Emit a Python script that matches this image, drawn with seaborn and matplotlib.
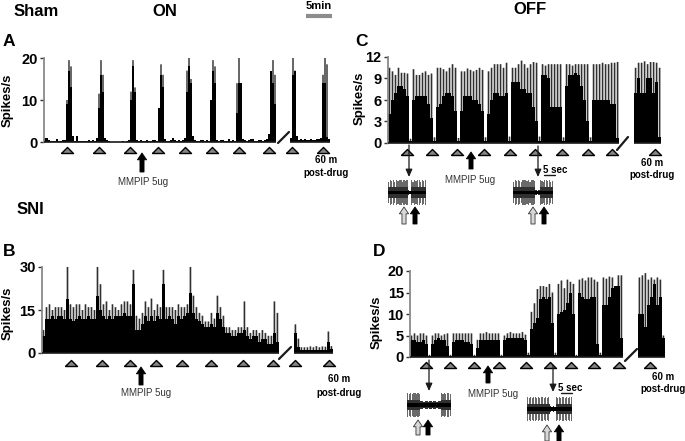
import numpy as np
import matplotlib
matplotlib.use("Agg")
import matplotlib.pyplot as plt
import seaborn as sns

sns.set_theme(style="white")
plt.rcParams["font.family"] = ["Liberation Sans", "DejaVu Sans"]

W, H = 685, 441

# ---------- panel A (Sham ON), 2 px bins
a_core = [1,1,.5,.3,.2,.3,.7,.3,.2,.4,
          .5,9,17,13,1.5,.3,1.5,.3,.3,.2,
          .3,.2,.5,.2,.4,.3,1,8,16,12,
          1,.4,.2,.1,0,0,0,0,.1,.2,
          .1,.3,.5,10,18,12,.5,.2,.4,.3,
          .3,.4,.3,.2,.5,.4,.3,8,16,13,
          .6,.3,.2,.4,1,.4,.3,.4,.3,.4,
          1,12,18,14,1.5,.5,.3,.3,.5,.4,
          .3,.5,.3,10,17,14,.5,.3,.4,.4,
          .3,.3,.7,.3,.4,.3,7,14,14,.6,
          .4,.3,.5,.8,.6,.3,.3,.5,.4,.3,.4,.8,2,17,14,9]
a_core2 = [1,16,17,1.5,.5,.6,.4,.7,.5,.4,.6,.5,.4,.6,.8,1,14,14,1.2,.6]
a_tip_bins = [11,12,13,27,28,29,43,44,45,57,58,59,71,72,73,83,84,85,96,97,98,113,114,115,124,125,139,140,141]
a_tip_vals = [10,19.5,18,11.5,19.5,16,12,19.5,13,8,18.5,16,17,20,15,9,19.5,18,14,20,14,16,19.5,16,20,17,16,20,18.5]
a_stim = [11,27,42.5,56.5,70,83.5,97,112,123.5,139]

# ---------- panel B (SNI ON), 3 px bins
b_peak = [8,16,17,15,16,16,16,15,30,17,
          16,17,17,15,17,16,16,15,30,24,
          17,18,15,17,16,15,17,18,18,17,
          29,13,12,14,18,16,19,15,17,16,
          29,16,16,16,15,17,16,16,17,30,
          20,16,14,13,11,11,14,12,20,16,
          13,9,9,8,8,9,9,18,9,7,
          8,8,7,8,7,6,6,18,14]
b_core = [6,12,12,13,12,13,13,12,19,12,
          11,12,13,12,12,13,12,12,20,15,
          13,12,13,12,13,13,13,14,13,13,
          24,8,8,10,13,11,13,11,13,12,
          24,12,13,12,10,13,12,13,14,21,
          14,12,11,10,9,9,10,9,14,12,
          9,7,7,6,6,7,7,8,6,5,
          6,6,4,5,5,3,3,7,4]
b_peak2 = [10,5,2,2,2,2.3,2,2.4,2,2.3,2.2,7.5,2.4]
b_core2 = [7,2,1,1,1,1.2,1,1.2,1,1.2,1,4,1.5]
b_stim = [9.2,19.5,28.8,37.5,46.2,55.8,66.5,76.5,83.8,95.2]

# ---------- panel C (Sham OFF), 3 px bins
c_peak = [10.5,10,9.5,10.5,9.8,9.8,9.7,.6,
          10.3,9.5,9.5,9.8,10,9.5,9.7,.8,
          10.5,10.5,10.3,10,10.5,11,10.5,.7,
          10,10,10.4,10.2,10,10.2,10.5,10.2,.8,
          10,10.5,11,11,11,10.5,11.2,.9,
          10.5,10.5,11,11.5,11,10.5,11,11.3,11.2,.9,
          11,10.8,11,11,11,11,11,.8,
          11,11,10.8,11,11,11,11,11,.8,
          11,11,11,11.2,11,11,11.2,11.2,11.3]
c_core = [4,6,7,8,8,7.5,6.5,.3,
          6,6.5,6.5,6.5,6.5,5.5,3.5,.3,
          5,5.5,6.5,7,7,6.5,4.5,.3,
          4.5,6.5,6.5,6.5,6,6,5.5,4.5,.3,
          4,6,7,7,6.5,6.5,7,.3,
          8.5,8.5,8.5,7.5,7.5,7,7,5,3,.3,
          9.5,9.5,9,5,5,5,5,.3,
          8,9.5,9.5,9.8,9.5,8,6,3,.3,
          6,6,6,6,6,6,5.5,5.5,.7]
c_peak2 = [10.5,11.2,11.2,11.4,11,11.3,11.3,11.2,10.5]
c_core2 = [7,9,7,7,9,9,7,8.5,.8]
c_stim = [5.8,14.2,22.5,31.5,40.2,48.5,57.5,66.2,74.2,88.5]

# ---------- panel D (SNI OFF), 3 px bins
d_peak = [5,5.5,5,5.5,5.5,5,.5,
          5,5.5,5.5,5,5.3,5.5,.5,
          5.5,5.5,5.5,5.5,5.5,5.5,5.5,.5,
          4,5.5,5.5,5.8,5.5,5.5,5.5,5.5,.5,
          5,5.5,5.8,5.5,5.5,5.5,5.8,5.2,1,
          10.5,12.5,15.8,16.5,16.5,16.3,17,15,1,
          17,17.8,16,18,17.5,17,.5,
          18,18.3,17.8,18.5,18.5,18,17.5,1,
          18.5,18.2,18.7,18.5,16.5,19,19]
d_core = [4,4,3.5,3.5,4,3,.3,
          3,4,4.5,4,4,2.5,.3,
          3.5,4,4,4,3.5,3.5,3,.3,
          2,4,4,4,4,4,4,4,.3,
          4,4.5,4.5,4.5,4.5,4.5,4.5,4,.5,
          6.5,8,9,13.5,14,13.5,14,8,.5,
          10,10.5,11,12.5,15,10,.3,
          15,14,13.5,13.5,14,14,3,.5,
          12,12,14,16,16.5,16.5,4.5]
d_peak2 = [18.5,19,19.5,18,18.5,18,18.5,18,5]
d_core2 = [10,10,7,12,14,17,12,14,4.5]
d_stim = [5,13,21,29.3,38.3,46.3,53.3,61,69.2,79.5]

# ---------- sample traces
c1_amp = [.8,1,.9,1,.85,1,.9,1,.95,.85,1,.9,1,.2,.15,1,.85,1,.9,1,.95,.85,1,.9,.95]
c2_amp = [.85,1,.9,1,.9,.85,1,.95,1,.9,1,.85,1,.95,.9,.2,.15,.2,1,.9,.85,1,.95,.9,1,.85,.9]
d1_amp = [1,.9,1,.85,1,.95,.9,1,.85,.3,.3,.25,.3,.3,.25,.3,.3,.25,.3,.3,.25,.3,.3,1,.9,1,.85,1,.95,.9]
d2_amp = [1,.85,1,.9,.95,1,.85,1,.9,1,.95,.85,1,.9,1,.25,.2,.25,.2,1,.9,1,.85,.95,1,.9,1,.85,1,.95]

yticks_a, yticks_b = [0,10,20], [0,15,30]
yticks_c, yticks_d = [0,3,6,9,12], [0,5,10,15,20]

triangle = np.array([[-1,-.5],[1,-.5],[0,.5],[-1,-.5]])

fig = plt.figure(figsize=(W/100, H/100), dpi=100)
fig.patch.set_facecolor("white")


def bars(ax, pos, vals, width, color):
    sns.barplot(x=pos, y=vals, native_scale=True, width=width, color=color,
                saturation=1, errorbar=None, linewidth=0, ax=ax)


def panel(left, right, top, bottom, xmax, ymax, yticks, core, core2, off, tips_x, tips_y,
          stim, stim_y, tip_w=.55, tip_c="#303030"):
    ax = fig.add_axes([left/W, 1-bottom/H, (right-left)/W, (bottom-top)/H])
    bars(ax, tips_x, tips_y, tip_w, tip_c)
    for p in ax.patches:
        p.set_snap(False)
    pos = np.r_[np.arange(len(core)), off+np.arange(len(core2))]
    bars(ax, pos, list(core)+list(core2), 1.0, "black")
    ax.hlines(0, -.5, len(core)-.5, color="k", lw=1.2, clip_on=False, zorder=5)
    ax.hlines(0, off-.5, off+len(core2)-.5, color="k", lw=1.2, clip_on=False, zorder=5)
    sns.scatterplot(x=stim, y=[stim_y]*len(stim), marker=triangle, s=75, color="#858585",
                    edgecolor="black", linewidth=1, clip_on=False, legend=False, ax=ax, zorder=6)
    ax.set_xlim(-.5, xmax)
    ax.set_ylim(0, ymax)
    ax.set_xticks([])
    ax.set_yticks(yticks)
    ax.set_xlabel("")
    ax.set_ylabel("")
    ax.patch.set_alpha(0)
    for s in ["top", "right", "bottom"]:
        ax.spines[s].set_visible(False)
    ax.spines["left"].set_color("#8a8a8a")
    ax.spines["left"].set_linewidth(1.3)
    ax.tick_params(axis="y", left=True, length=3, width=1, color="#333333", pad=1.5,
                   labelsize=10.5, labelcolor="black")
    for t in ax.get_yticklabels():
        t.set_fontweight("bold")
    return ax


# A
ax_a = panel(44, 332, 58, 142, 143.5, 20, yticks_a, a_core, a_core2, 123,
             a_tip_bins, a_tip_vals, a_stim, -1.9, tip_w=.8, tip_c="#444444")
# B
pb = np.r_[np.arange(len(b_peak)), 84+np.arange(len(b_peak2))]
ax_b = panel(42, 335, 267, 353, 97.2, 30, yticks_b, b_core, b_core2, 84,
             pb, b_peak+b_peak2, b_stim, -3.5)
# C
pc = np.r_[np.arange(len(c_peak)), 82+np.arange(len(c_peak2))]
ax_c = panel(388, 662, 57, 143, 90.8, 12, yticks_c, c_core, c_core2, 82,
             pc, c_peak+c_peak2, c_stim, -1.25)
# D
pd_ = np.r_[np.arange(len(d_peak)), 76+np.arange(len(d_peak2))]
ax_d = panel(410, 667, 271, 357, 85.2, 20, yticks_d, d_core, d_core2, 76,
             pd_, d_peak+d_peak2, d_stim, -1.85)


def trace(amp, left, right, top, bottom):
    ax = fig.add_axes([left/W, 1-bottom/H, (right-left)/W, (bottom-top)/H])
    a = np.array(amp)
    x = np.arange(len(a))
    bars(ax, x, a, .85, "#6a6a6a")
    bars(ax, x, -a, .85, "#6a6a6a")
    band = np.minimum(a, .42)
    bars(ax, x, band, 1.0, "#303030")
    bars(ax, x, -band, 1.0, "#303030")
    core = np.minimum(a, .14)
    bars(ax, x, core, 1.0, "#000000")
    bars(ax, x, -core, 1.0, "#000000")
    ax.set_xlim(-.5, len(a)-.5)
    ax.set_ylim(-1.05, 1.05)
    ax.axis("off")


trace(c1_amp, 388, 426, 179, 206)
trace(c2_amp, 513, 553, 179, 206)
trace(d1_amp, 407, 451, 392, 418)
trace(d2_amp, 527, 572, 396, 422)

# overlay in pixel coordinates for the figure's annotations
ov = fig.add_axes([0, 0, 1, 1], zorder=20)
ov.set_xlim(0, W)
ov.set_ylim(H, 0)
ov.axis("off")
ov.patch.set_alpha(0)


def txt(x, y, s, size, weight="bold", color="black", ha="center", **kw):
    ov.text(x, y, s, fontsize=size, fontweight=weight, color=color, ha=ha, va="center", **kw)


txt(14, 12, "Sham", 12, ha="left")
txt(165, 12, "ON", 12)
txt(530, 9, "OFF", 12)
txt(17, 210, "SNI", 12, ha="left")
txt(3, 41, "A", 12.5, ha="left")
txt(355, 41, "C", 12.5, ha="left")
txt(3, 251, "B", 12.5, ha="left")
txt(373, 251, "D", 12.5, ha="left")
txt(319, 6, "5min", 8)
ov.plot([306, 332], [15.5, 15.5], color="#8c8c8c", lw=3, solid_capstyle="butt")

for x, y in [(8, 100), (8, 313), (360, 98), (377, 322)]:
    txt(x, y, "Spikes/s", 9.5, rotation=90)

for x, y in [(143, 182), (146, 393), (470, 180), (493, 394)]:
    txt(x, y, "MMPIP 5ug", 7, weight="normal", color="#333333")

for x, y1, y2 in [(326, 160, 173), (339, 379, 393), (652, 163, 175), (663, 377, 389)]:
    txt(x, y1, "60 m", 7)
    txt(x, y2, "post-drug", 7)

for x, y, x1, x2, y2 in [(555, 170, 544, 555, 175), (570, 388, 561, 572, 393)]:
    txt(x, y, "5 sec", 7)
    ov.plot([x1, x2], [y2, y2], color="k", lw=1)

for p in [(278, 143, 289, 132), (279, 359, 291, 347), (617, 150, 628, 137), (625, 361, 637, 349)]:
    ov.plot([p[0], p[2]], [p[1], p[3]], color="k", lw=1.6)


def arrow(x, y1, y2, fc="black", ec="black", thick=True):
    if thick:
        st = "simple,head_length=0.7,head_width=0.95,tail_width=0.42"
        ov.annotate("", xy=(x, y1), xytext=(x, y2),
                    arrowprops=dict(arrowstyle=st, fc=fc, ec=ec, lw=.6, shrinkA=0, shrinkB=0,
                                    mutation_scale=7))
    else:
        ov.annotate("", xy=(x, y2), xytext=(x, y1),
                    arrowprops=dict(arrowstyle="-|>,head_length=0.45,head_width=0.2", fc="k", ec="k",
                                    lw=.9, shrinkA=0, shrinkB=0, mutation_scale=10))


for x, y1, y2 in [(142, 153, 172), (141, 367, 385), (471, 152, 169), (488, 366, 383)]:
    arrow(x, y1, y2)
for x, y1, y2 in [(409, 145, 177), (538, 146, 177), (429, 360, 391), (553, 365, 392)]:
    arrow(x, y1, y2, thick=False)
for x, y1, y2 in [(404, 207, 224), (533, 207, 224), (418, 420, 435), (547, 425, 441)]:
    arrow(x, y1, y2, fc="#d8d8d8", ec="#333333")
for x, y1, y2 in [(415, 207, 224), (544, 207, 224), (428, 420, 435), (559, 425, 441)]:
    arrow(x, y1, y2)

fig.savefig("out.png", dpi=100, facecolor="white")
